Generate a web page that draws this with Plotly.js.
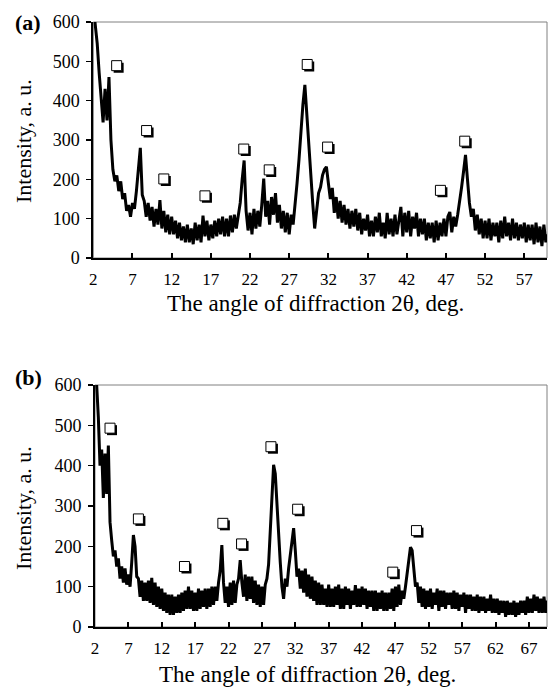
<!DOCTYPE html>
<html>
<head>
<meta charset="utf-8">
<script src="https://cdn.plot.ly/plotly-3.0.1.min.js"></script>
<style>html,body{margin:0;padding:0;background:#fff;}#chart{width:548px;height:689px;}</style>
</head>
<body>
<div id="chart"></div>
<script>
// Panel (a): intensity, 2θ from 2.0° in 0.25° steps (8 values per 2°)
const aStart = 2.0, aStep = 0.25;
const aIntensity = [
  640,600,545,470,410,345,430,350,
  460,300,225,195,210,170,195,150,
  165,120,135,105,140,125,170,235,
  280,160,145,105,140,95,130,80,
  125,85,147,75,120,65,110,60,
  105,60,95,50,90,45,80,40,
  85,40,75,35,90,45,85,40,
  108,55,95,45,85,50,95,55,
  100,60,105,55,100,55,108,65,
  110,75,115,140,200,248,120,70,
  115,60,125,75,120,80,135,202,
  105,145,85,155,110,165,90,135,
  75,120,65,115,60,110,85,150,
  190,250,330,390,440,360,300,220,
  140,75,130,165,180,210,225,232,
  190,150,178,115,155,100,145,90,
  135,85,125,75,120,80,125,70,
  115,60,100,70,110,55,95,55,
  105,65,115,55,90,50,115,60,
  100,55,110,60,95,130,55,115,
  65,120,55,105,75,115,55,100,
  60,100,45,90,50,90,40,95,
  45,90,55,100,55,105,117,65,
  105,80,110,140,180,220,262,200,
  140,105,125,70,110,60,100,50,
  95,50,100,45,90,55,90,40,
  95,50,105,55,90,45,100,50,
  90,45,85,50,90,40,85,45,
  85,35,90,40,80,30,85,40,
  60
];
// Panel (b)
const bStart = 2.0, bStep = 0.25;
const bIntensity = [
  640,600,520,400,440,320,430,330,
  450,260,215,175,190,150,170,120,
  150,110,145,105,130,100,160,228,
  200,125,120,75,115,65,110,65,
  115,60,122,55,110,50,100,45,
  95,40,85,35,80,30,80,30,
  75,35,80,35,85,40,90,45,
  100,45,90,40,85,40,95,45,
  90,50,95,45,95,50,100,55,
  100,65,110,140,203,110,60,100,
  50,110,55,115,60,105,120,166,
  110,75,130,65,125,70,125,60,
  115,55,105,50,100,55,105,120,
  155,230,330,402,380,300,240,160,
  100,70,120,100,145,175,215,245,
  190,125,145,95,140,85,145,75,
  130,70,125,65,115,55,110,55,
  105,55,95,50,105,50,95,50,
  100,55,105,45,95,45,100,55,
  95,45,90,55,104,50,95,50,
  100,55,95,45,90,50,90,40,
  90,40,85,45,90,40,85,40,
  85,45,95,40,100,50,105,55,
  90,70,100,130,160,198,190,140,
  100,110,60,100,50,95,45,90,
  50,95,45,85,55,95,40,90,
  50,90,45,85,55,85,45,90,
  45,85,40,80,50,85,35,80,
  45,80,40,75,40,80,35,75,
  40,75,35,70,40,80,35,70,
  35,70,30,65,35,65,25,65,
  30,60,30,65,25,60,30,65,
  35,65,30,75,35,70,35,80,
  40,75,35,70,35,75,35,65,
  50
];
// Phase marks (□) positions
const aMarkX = [4.98, 8.8, 11.0, 16.25, 21.2, 24.45, 29.3, 31.9, 46.3, 49.4];
const aMarkY = [489, 324, 201, 158, 277, 224, 492, 282, 172, 297];
const bMarkX = [4.25, 8.5, 15.4, 21.15, 23.95, 28.35, 32.35, 46.6, 50.15];
const bMarkY = [493, 268, 150, 257, 206, 447, 292, 136, 239];
const yTicks = [0, 100, 200, 300, 400, 500, 600];
const xTitle = 'The angle of diffraction 2θ, deg.';
const yTitle = 'Intensity, a. u.';

const aX = aIntensity.map((_, i) => aStart + i * aStep);
const bX = bIntensity.map((_, i) => bStart + i * bStep);

const serif = 'Liberation Serif';
const W = 548, H = 689;
const px = v => v / W, py = v => 1 - v / H;

const lineStyle = {color: '#000', width: 3};

const traces = [
  {x: aX, y: aIntensity, type: 'scatter', mode: 'lines', line: lineStyle, xaxis: 'x', yaxis: 'y', hoverinfo: 'skip'},
  {x: bX, y: bIntensity, type: 'scatter', mode: 'lines', line: lineStyle, xaxis: 'x2', yaxis: 'y2', hoverinfo: 'skip'}
];

// shadowed open squares, anchored at data points, sized in pixels
function markShapes(xs, ys, xr, yr) {
  const out = [];
  xs.forEach((x, i) => {
    const y = ys[i];
    out.push({type: 'rect', xref: xr, yref: yr, xsizemode: 'pixel', ysizemode: 'pixel',
      xanchor: x, yanchor: y, x0: -3, x1: 7, y0: -7, y1: 3,
      fillcolor: '#000', line: {width: 0}, layer: 'above'});
    out.push({type: 'rect', xref: xr, yref: yr, xsizemode: 'pixel', ysizemode: 'pixel',
      xanchor: x, yanchor: y, x0: -5, x1: 5, y0: -5, y1: 5,
      fillcolor: '#fff', line: {color: '#000', width: 1}, layer: 'above'});
  });
  return out;
}

const xBase = {
  tick0: 2, dtick: 5, ticks: 'inside', ticklen: 5, tickwidth: 2, tickcolor: '#000',
  showline: true, linecolor: '#000', linewidth: 2, showgrid: false, zeroline: false,
  tickfont: {family: serif, size: 17, color: '#000'}, ticklabelstandoff: 5, fixedrange: true
};
const yBase = {
  tickvals: yTicks, ticks: 'outside', ticklen: 5, tickwidth: 1.5, tickcolor: '#000',
  showline: true, linecolor: '#000', linewidth: 2, showgrid: false, zeroline: false,
  tickfont: {family: serif, size: 18, color: '#000'}, ticklabelstandoff: 3, fixedrange: true
};

const ann = (text, x, y, size, angle) => ({text: text, xref: 'paper', yref: 'paper', x: px(x), y: py(y),
  xanchor: 'center', yanchor: 'middle', textangle: angle || 0, showarrow: false,
  font: {family: serif, size: size, color: '#000'}});

const layout = {
  width: W, height: H,
  margin: {l: 0, r: 0, t: 0, b: 0},
  paper_bgcolor: '#fff', plot_bgcolor: '#fff',
  showlegend: false,
  xaxis: Object.assign({}, xBase, {domain: [px(93.3), px(547)], range: [2, 59.9], anchor: 'y'}),
  yaxis: Object.assign({}, yBase, {domain: [py(258), py(22)], range: [0, 600], anchor: 'x'}),
  xaxis2: Object.assign({}, xBase, {domain: [px(95), px(547)], range: [2, 69.7], anchor: 'y2'}),
  yaxis2: Object.assign({}, yBase, {domain: [py(627), py(385)], range: [0, 600], anchor: 'x2'}),
  shapes: [
    {type: 'rect', xref: 'x domain', yref: 'y domain', x0: 0, x1: 1, y0: 0, y1: 1, line: {color: '#808080', width: 1}, layer: 'below'},
    {type: 'rect', xref: 'x2 domain', yref: 'y2 domain', x0: 0, x1: 1, y0: 0, y1: 1, line: {color: '#808080', width: 1}, layer: 'below'}
  ].concat(markShapes(aMarkX, aMarkY, 'x', 'y'), markShapes(bMarkX, bMarkY, 'x2', 'y2')),
  annotations: [
    ann('<b>(a)</b>', 28, 23, 22),
    ann('<b>(b)</b>', 28, 378, 22),
    ann(yTitle, 23, 141, 22, -90),
    ann(yTitle, 23, 508, 22, -90),
    ann(xTitle, 315, 304, 23),
    ann(xTitle, 307, 674, 23)
  ]
};

Plotly.newPlot('chart', traces, layout, {staticPlot: true, displayModeBar: false});
</script>
</body>
</html>
